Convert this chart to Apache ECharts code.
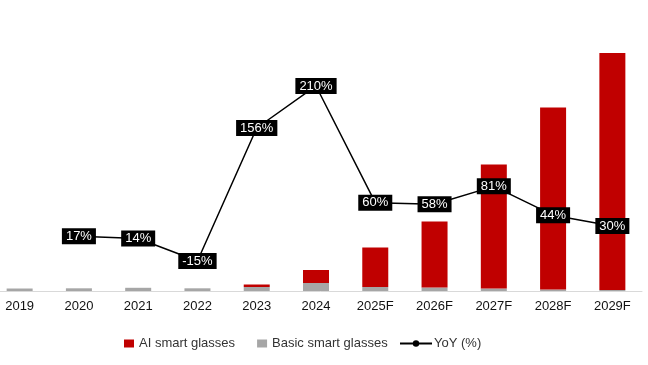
<!DOCTYPE html>
<html>
<head>
<meta charset="utf-8">
<script src="https://cdn.jsdelivr.net/npm/echarts@6/dist/echarts.min.js"></script>
<style>
html,body{margin:0;padding:0;background:#fff;}
#c{width:648px;height:365px;}
</style>
</head>
<body>
<div id="c"></div>
<script>
const categories = ['2019','2020','2021','2022','2023','2024','2025F','2026F','2027F','2028F','2029F'];
const aiGlasses = [0, 0, 0, 0, 2.5, 13, 39.5, 66, 124, 182, 237];
const basicGlasses = [2.5, 2.7, 3.2, 2.7, 4, 8, 4, 3.5, 2.5, 1.5, 1];
const yoy = [null, 17, 14, -15, 156, 210, 60, 58, 81, 44, 30];

const chart = echarts.init(document.getElementById('c'));
const font = 'Liberation Sans, Arial, sans-serif';
chart.setOption({
  animation: false,
  backgroundColor: '#fff',
  grid: { left: -10, right: 6, top: 40, bottom: 74, containLabel: false, outerBoundsMode: 'none' },
  legend: [
    {
      data: ['AI smart glasses', 'Basic smart glasses'],
      left: 119, top: 332, itemWidth: 10, itemHeight: 8, itemGap: 22, icon: 'rect',
      textStyle: { fontSize: 13, color: '#333', fontFamily: font }
    },
    {
      data: ['YoY (%)'],
      left: 394, top: 332, itemWidth: 32, itemHeight: 8,
      textStyle: { fontSize: 13, color: '#333', fontFamily: font, padding: [0,0,0,-3] }
    }
  ],
  xAxis: {
    type: 'category', data: categories,
    axisLine: { lineStyle: { color: '#d9d9d9', width: 1 } },
    axisTick: { show: false },
    axisLabel: { fontSize: 13, color: '#111', fontFamily: font, margin: 9 }
  },
  yAxis: [
    { type: 'value', min: 0, max: 251, show: false, splitLine: { show: false } },
    { type: 'value', min: -53.5, max: 269.1, show: false, splitLine: { show: false } }
  ],
  series: [
    {
      name: 'Basic smart glasses', type: 'bar', stack: 'total', data: basicGlasses,
      barWidth: 26, itemStyle: { color: '#a6a6a6' }
    },
    {
      name: 'AI smart glasses', type: 'bar', stack: 'total', data: aiGlasses,
      barWidth: 26, itemStyle: { color: '#c00000' }
    },
    {
      name: 'YoY (%)', type: 'line', yAxisIndex: 1, data: yoy,
      symbol: 'circle', symbolSize: 7, showSymbol: true, z: 5,
      lineStyle: { color: '#000', width: 1.5 },
      itemStyle: { color: '#000' },
      label: {
        show: true, position: 'inside',
        formatter: p => p.value + '%',
        backgroundColor: '#000', color: '#fff', fontSize: 13, fontFamily: font,
        padding: [2, 4, 1, 4]
      }
    }
  ]
});
</script>
</body>
</html>
